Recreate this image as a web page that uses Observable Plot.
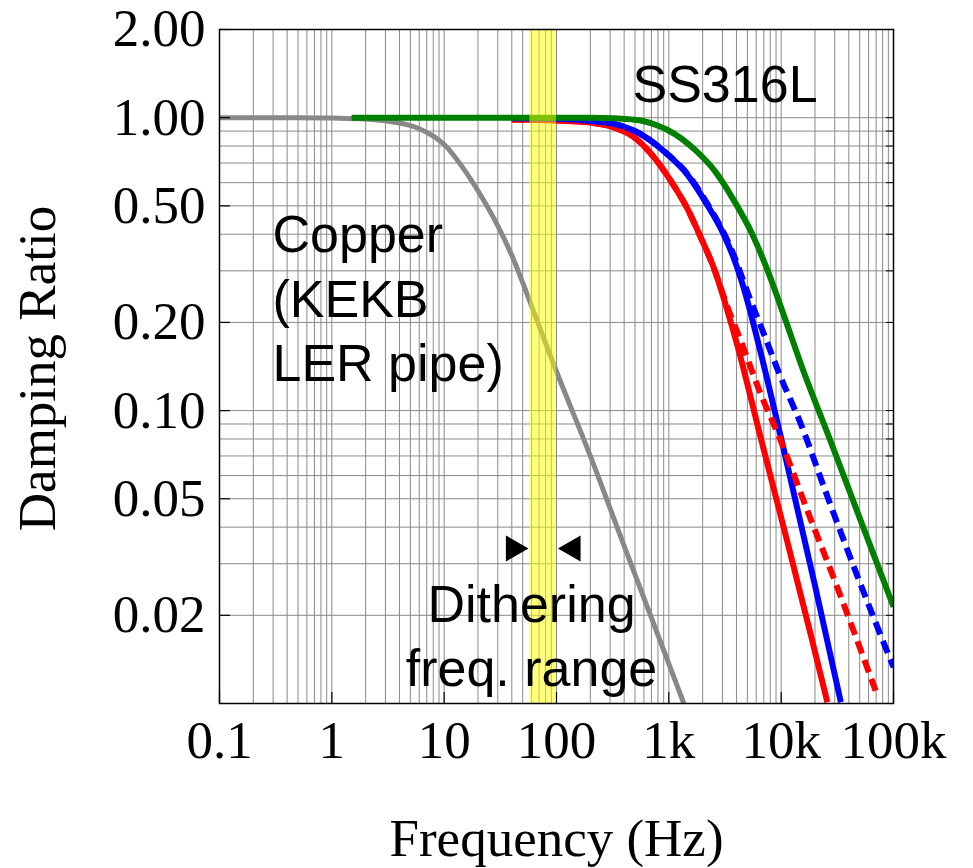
<!DOCTYPE html>
<html>
<head>
<meta charset="utf-8">
<script src="https://cdn.jsdelivr.net/npm/d3@7"></script>
<script src="https://cdn.jsdelivr.net/npm/@observablehq/plot@0.6"></script>
<style>
  html, body { margin: 0; padding: 0; background: #ffffff; }
  #chart { width: 973px; height: 868px; }
</style>
</head>
<body>
<div id="chart"></div>
<script>
// ---- tick labels ----
const xTicks = [0.1, 1, 10, 100, 1000, 10000, 100000];
const xTickLabels = ["0.1", "1", "10", "100", "1k", "10k", "100k"];
const yTicks = [0.02, 0.05, 0.1, 0.2, 0.5, 1, 2];
const yTickLabels = ["0.02", "0.05", "0.10", "0.20", "0.50", "1.00", "2.00"];

// ---- series (frequency in Hz, damping ratio) ----
const copperFreq  = [0.1, 0.5, 1, 2, 3, 4.5, 6, 8, 10, 14.7, 20.8, 29.4, 40.9, 57.9, 87, 100, 200, 400, 700, 1360];
const copperRatio = [1, 1, 0.997, 0.99, 0.975, 0.95, 0.917, 0.865, 0.81, 0.674, 0.549, 0.434, 0.332, 0.236, 0.156, 0.136, 0.070, 0.0345, 0.0196, 0.0100];

const redFreq  = [40, 100, 200, 325, 489, 736, 1037, 1459, 1918, 2521, 3316, 4074, 6566, 10970, 18320, 25780];
const redRatio = [0.985, 0.978, 0.962, 0.927, 0.858, 0.733, 0.610, 0.490, 0.391, 0.306, 0.220, 0.167, 0.0809, 0.0375, 0.0172, 0.0101];

const redDashFreq  = [40, 100, 200, 325, 489, 736, 1037, 1459, 1918, 2521, 3316, 4357, 6566, 9908, 17100, 31620, 69340];
const redDashRatio = [0.985, 0.978, 0.962, 0.927, 0.858, 0.733, 0.610, 0.490, 0.391, 0.306, 0.226, 0.1735, 0.1141, 0.0790, 0.0456, 0.0249, 0.01105];

const blueFreq  = [40, 114, 199, 318, 553, 957, 1443, 2176, 3062, 3802, 4355, 5000, 5546, 7620, 10470, 20080, 34000];
const blueRatio = [0.995, 0.99, 0.975, 0.954, 0.882, 0.753, 0.643, 0.507, 0.401, 0.330, 0.284, 0.237, 0.204, 0.125, 0.0745, 0.0251, 0.0101];

const blueDashFreq  = [40, 114, 199, 318, 553, 957, 1443, 2176, 3549, 5350, 7270, 9908, 14920, 24040, 44460, 100000];
const blueDashRatio = [0.995, 0.99, 0.975, 0.954, 0.882, 0.755, 0.647, 0.512, 0.36, 0.2376, 0.1762, 0.130, 0.0903, 0.0548, 0.0292, 0.0133];

const greenFreq  = [1.5, 20, 201, 325, 561, 790, 975, 1732, 2612, 3802, 5519, 7745, 10970, 14920, 27610, 51050, 100000];
const greenRatio = [1, 1, 1, 0.995, 0.978, 0.940, 0.908, 0.773, 0.652, 0.521, 0.401, 0.294, 0.203, 0.1449, 0.0784, 0.0421, 0.0214];

// dithering frequency range (Hz)
const ditherBand = [{from: 58, to: 100}];

// ---- helpers ----
const rows = (f, v) => f.map((x, i) => ({f: x, v: v[i]}));
const xLabel = new Map(xTicks.map((t, i) => [t, xTickLabels[i]]));
const yLabel = new Map(yTicks.map((t, i) => [t, yTickLabels[i]]));

const xGrid = [];
for (let e = -1; e <= 4; e++) for (let m = 1; m <= 9; m++) xGrid.push(m * Math.pow(10, e));
xGrid.push(100000);
const yGrid = [];
for (let e = -2; e <= -1; e++) for (let m = 1; m <= 9; m++) yGrid.push(m * Math.pow(10, e));
yGrid.push(1, 2);

const serif = "'Liberation Serif', 'Times New Roman', serif";
const sans = "'Liberation Sans', Arial, sans-serif";
const lineOpts = {x: "f", y: "v", curve: "monotone-x", strokeWidth: 6, strokeLinecap: "butt", strokeLinejoin: "round", clip: true};

const chart = Plot.plot({
  width: 973,
  height: 868,
  marginLeft: 219,
  marginRight: 80,
  marginTop: 29,
  marginBottom: 165,
  style: {background: "#ffffff", fontFamily: serif, color: "#000"},
  x: {type: "log", domain: [0.1, 100000]},
  y: {type: "log", domain: [0.01, 2]},
  marks: [
    Plot.ruleX(xGrid, {stroke: "#8a8a8a", strokeWidth: 1}),
    Plot.ruleY(yGrid, {stroke: "#8a8a8a", strokeWidth: 1}),
    Plot.line(rows(copperFreq, copperRatio), {...lineOpts, stroke: "#888888", strokeWidth: 5}),
    Plot.line(rows(redFreq, redRatio), {...lineOpts, stroke: "#ff0000"}),
    Plot.line(rows(blueFreq, blueRatio), {...lineOpts, stroke: "#0000ff"}),
    Plot.line(rows(redDashFreq, redDashRatio), {...lineOpts, stroke: "#ff0000", strokeDasharray: "13,7"}),
    Plot.line(rows(blueDashFreq, blueDashRatio), {...lineOpts, stroke: "#0000ff", strokeDasharray: "13,7"}),
    Plot.line(rows(greenFreq, greenRatio), {...lineOpts, stroke: "#008000"}),
    Plot.rect(ditherBand, {x1: "from", x2: "to", fill: "#ffff00", fillOpacity: 0.5}),
    // inward ticks
    Plot.tickY(yTicks, {stroke: "#000", strokeWidth: 1.2, insetRight: 663}),
    Plot.tickY(yGrid, {stroke: "#000", strokeWidth: 1, insetLeft: 667}),
    Plot.tickX(xTicks, {stroke: "#000", strokeWidth: 1.2, insetTop: 663}),
    Plot.frame({stroke: "#000", strokeWidth: 1.5}),
    // axes
    Plot.axisY({ticks: yTicks, tickFormat: d => yLabel.get(d), tickSize: 0, tickPadding: 14, fontSize: 53, label: null}),
    Plot.axisX({ticks: xTicks, tickFormat: d => xLabel.get(d), tickSize: 0, tickPadding: 17, fontSize: 53, label: null}),
    Plot.text(["Frequency (Hz)"], {text: d => d, frameAnchor: "bottom", textAnchor: "middle", lineAnchor: "top", dy: 115, fontSize: 53, fontFamily: serif}),
    Plot.text(["Damping Ratio"], {text: d => d, frameAnchor: "left", textAnchor: "middle", rotate: -90, lineAnchor: "middle", dx: -181, dy: 2, fontSize: 53, fontFamily: serif}),
    // annotations
    Plot.text(["SS316L"], {text: d => d, frameAnchor: "top-left", textAnchor: "start", lineAnchor: "top", dx: 413, dy: 36, fontSize: 52, fontFamily: sans}),
    Plot.text(["Copper\n(KEKB\nLER pipe)"], {text: d => d, frameAnchor: "top-left", textAnchor: "start", lineAnchor: "top", lineHeight: 1.24, dx: 53, dy: 177, fontSize: 52, fontFamily: sans}),
    Plot.text(["Dithering\nfreq. range"], {text: d => d, frameAnchor: "top-left", textAnchor: "middle", lineAnchor: "top", lineHeight: 1.23, dx: 312, dy: 547, fontSize: 52, fontFamily: sans}),
    Plot.dot(ditherBand, {x: "from", frameAnchor: "bottom", dx: -16.5, dy: -155, symbol: "triangle", rotate: 90, r: 9.7, fill: "#000", stroke: "none"}),
    Plot.dot(ditherBand, {x: "to", frameAnchor: "bottom", dx: 16.5, dy: -155, symbol: "triangle", rotate: -90, r: 9.7, fill: "#000", stroke: "none"})
  ]
});
document.getElementById("chart").appendChild(chart);
</script>
</body>
</html>
